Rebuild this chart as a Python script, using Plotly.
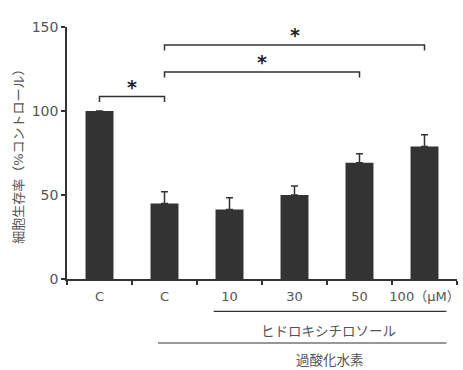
import plotly.graph_objects as go

categories = ["C_ctrl", "C_h2o2", "10", "30", "50", "100"]
tick_labels = ["C", "C", "10", "30", "50", "100（μM）"]
viability = [100, 45, 41.3, 50, 69.2, 78.8]
errors = [None, 7, 7, 5.4, 5.4, 7.1]

y_title = "細胞生存率（%コントロール）"
group1_label = "ヒドロキシチロソール"
group2_label = "過酸化水素"

# significance brackets: (start index, end index, bracket height)
brackets = [(0, 1, 108.7), (1, 4, 123.2), (1, 5, 139.3)]

FONT = "DejaVu Sans, Noto Sans CJK JP"
DARK = "#333333"
TXT = "#555555"

fig = go.Figure()
fig.add_trace(go.Bar(
    x=categories, y=viability,
    marker=dict(color=DARK, line=dict(width=0)),
    width=0.43,
    error_y=dict(type="data", array=errors, symmetric=False,
                 arrayminus=[0] * len(errors),
                 color=DARK, thickness=1.5, width=3.5),
    hoverinfo="skip",
))

shapes = []
annotations = []
leg = 3.3
for a, b, h in brackets:
    shapes.append(dict(type="path", xref="x", yref="y",
                       path=f"M {a},{h-leg} L {a},{h} L {b},{h} L {b},{h-leg}",
                       line=dict(color=DARK, width=1.5)))
    annotations.append(dict(x=(a + b) / 2, y=h - 2, xref="x", yref="y",
                            text="<b>*</b>", showarrow=False,
                            font=dict(family=FONT, size=19, color="#222222"),
                            yanchor="bottom"))

# group lines below axis
shapes.append(dict(type="line", xref="x", yref="paper", x0=1.757, x1=5.337,
                   y0=-0.1286, y1=-0.1286, line=dict(color=DARK, width=1.2)))
shapes.append(dict(type="line", xref="x", yref="paper", x0=0.9, x1=5.337,
                   y0=-0.254, y1=-0.254, line=dict(color=DARK, width=1.2)))
annotations.append(dict(x=3.53, y=-0.205, xref="x", yref="paper", text=group1_label,
                        showarrow=False, font=dict(family=FONT, size=13.5, color=TXT),
                        xanchor="center", yanchor="middle"))
annotations.append(dict(x=3.55, y=-0.322, xref="x", yref="paper", text=group2_label,
                        showarrow=False, font=dict(family=FONT, size=13.5, color=TXT),
                        xanchor="center", yanchor="middle"))
annotations.append(dict(x=-0.126, y=0.50, xref="paper", yref="paper", text=y_title,
                        textangle=-90, showarrow=False,
                        font=dict(family=FONT, size=13, color=TXT),
                        xanchor="center", yanchor="middle"))

fig.update_layout(
    width=463, height=370,
    margin=dict(l=67, r=6, t=27, b=91, autoexpand=False),
    paper_bgcolor="white", plot_bgcolor="white",
    showlegend=False,
    font=dict(family=FONT, size=13, color=TXT),
    shapes=shapes, annotations=annotations,
    bargap=0.57,
)
fig.update_xaxes(
    type="category", range=[-0.5, 5.5], automargin=False,
    tickmode="array", tickvals=categories, ticktext=tick_labels, tickangle=0,
    tickson="boundaries", ticks="outside", ticklen=4, tickwidth=1.5,
    tickcolor=DARK, showline=True, linecolor=DARK, linewidth=1.5,
    showgrid=False, zeroline=False, ticklabelstandoff=5,
    tickfont=dict(family=FONT, size=13, color=TXT),
)
fig.update_yaxes(
    range=[0, 150], tickvals=[0, 50, 100, 150], automargin=False,
    ticks="outside", ticklen=4, tickwidth=1.5, tickcolor=DARK,
    showline=True, linecolor=DARK, linewidth=1.5,
    showgrid=False, zeroline=False,
    tickfont=dict(family=FONT, size=14, color=TXT),
)

fig.write_html("out.html", config={"displayModeBar": False},
               post_script="document.body.style.margin='0';document.body.style.padding='0';document.body.style.overflow='hidden';")
